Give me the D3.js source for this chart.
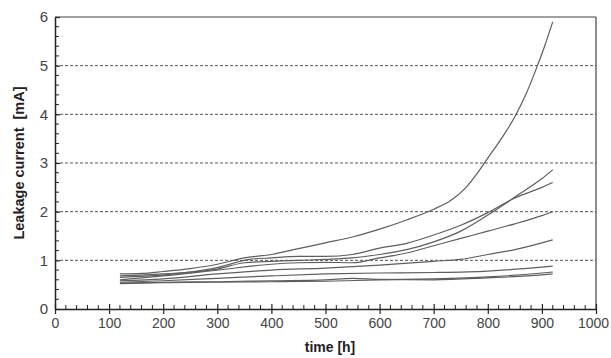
<!DOCTYPE html>
<html><head><meta charset="utf-8">
<script src="https://cdn.jsdelivr.net/npm/d3@7"></script>
<style>body{margin:0;background:#fff}svg{display:block}text{white-space:pre}</style>
</head><body><svg id="c" width="611" height="358"></svg>
<script>
const xTicks = [0,100,200,300,400,500,600,700,800,900,1000];
const yTicks = [0,1,2,3,4,5,6];
const gridValues = [1,2,3,4,5];
const xLabel = "time [h]";
const yLabel = "Leakage current  [mA]";

const seriesA = [[120,0.72],[160,0.73],[200,0.77],[250,0.83],[300,0.92],[350,1.05],[400,1.12],[450,1.24],[500,1.36],[550,1.48],[600,1.64],[650,1.83],[700,2.05],[730,2.22],[760,2.5],[780,2.78],[800,3.1],[825,3.5],[850,3.95],[870,4.4],[890,4.95],[905,5.4],[920,5.9]];
const seriesB = [[120,0.68],[200,0.72],[300,0.82],[350,0.95],[400,0.98],[450,1.0],[500,1.02],[550,1.05],[600,1.12],[650,1.22],[700,1.38],[750,1.6],[800,1.93],[850,2.3],[900,2.68],[920,2.86]];
const seriesC = [[120,0.65],[200,0.7],[300,0.85],[360,1.02],[400,1.05],[450,1.08],[500,1.08],[550,1.12],[600,1.25],[650,1.35],[700,1.52],[750,1.72],[800,1.98],[850,2.28],[900,2.5],[920,2.6]];
const seriesD = [[120,0.6],[200,0.68],[300,0.8],[400,0.92],[450,0.95],[500,0.96],[550,0.95],[600,1.05],[650,1.15],[700,1.3],[750,1.45],[800,1.6],[850,1.75],[900,1.92],[920,2.0]];
const seriesE = [[120,0.58],[200,0.62],[300,0.72],[400,0.8],[500,0.84],[600,0.9],[700,0.98],[750,1.02],[800,1.12],[850,1.22],[900,1.36],[920,1.42]];
const seriesF = [[120,0.55],[200,0.58],[300,0.63],[400,0.68],[500,0.72],[600,0.74],[700,0.75],[800,0.78],[900,0.86],[920,0.88]];
const seriesG = [[120,0.52],[200,0.54],[300,0.55],[400,0.56],[500,0.57],[600,0.6],[700,0.62],[800,0.66],[900,0.74],[920,0.76]];
const seriesH = [[120,0.53],[200,0.55],[300,0.56],[400,0.58],[500,0.6],[550,0.63],[600,0.61],[700,0.6],[800,0.64],[900,0.7],[920,0.72]];
const allSeries = [seriesA,seriesB,seriesC,seriesD,seriesE,seriesF,seriesG,seriesH];

const W=611,H=358,m={l:55,r:15,t:17,b:49};
const svg=d3.select("#c");
const x=d3.scaleLinear().domain([0,1000]).range([m.l,W-m.r]);
const y=d3.scaleLinear().domain([0,6]).range([H-m.b,m.t]);
const font="Liberation Sans, Arial, sans-serif";

svg.append("g").selectAll("line").data(gridValues).join("line")
  .attr("x1",x(0)).attr("x2",x(1000)).attr("y1",d=>y(d)).attr("y2",d=>y(d))
  .attr("stroke","#555").attr("stroke-width",1).attr("stroke-dasharray","3,2");

svg.append("line").attr("x1",x(0)).attr("x2",x(1000)).attr("y1",y(6)).attr("y2",y(6)).attr("stroke","#444").attr("stroke-width",1.2);
svg.append("line").attr("x1",x(1000)).attr("x2",x(1000)).attr("y1",y(6)).attr("y2",y(0)).attr("stroke","#444").attr("stroke-width",1.2);

const line=d3.line().x(d=>x(d[0])).y(d=>y(d[1])).curve(d3.curveMonotoneX);
svg.append("g").selectAll("path").data(allSeries).join("path")
  .attr("d",line).attr("fill","none").attr("stroke","#5e5e5e").attr("stroke-width",1.2);

const xMinor=d3.range(0,1001,20).filter(v=>v%100!==0);
svg.append("g").selectAll("line").data(xMinor).join("line")
  .attr("x1",d=>x(d)).attr("x2",d=>x(d)).attr("y1",y(0)).attr("y2",y(0)-4)
  .attr("stroke","#222").attr("stroke-width",1);
const yMinor=d3.range(0,6.001,0.2).filter(v=>Math.abs(v-Math.round(v))>0.01);
svg.append("g").selectAll("line").data(yMinor).join("line")
  .attr("x1",x(0)).attr("x2",x(0)+4).attr("y1",d=>y(d)).attr("y2",d=>y(d))
  .attr("stroke","#222").attr("stroke-width",1);

const fmt=d3.format("d");
const gx=svg.append("g").attr("transform",`translate(0,${y(0)})`)
  .call(d3.axisBottom(x).tickValues(xTicks).tickFormat(fmt).tickSize(5).tickSizeOuter(0).tickPadding(4));
const gy=svg.append("g").attr("transform",`translate(${x(0)},0)`)
  .call(d3.axisLeft(y).tickValues(yTicks).tickFormat(fmt).tickSize(4).tickSizeOuter(0).tickPadding(3));
[gx,gy].forEach(g=>{
  g.select(".domain").attr("stroke","#222").attr("stroke-width",1.5);
  g.selectAll(".tick line").attr("stroke","#222").attr("stroke-width",1.2);
  g.selectAll("text").attr("font-family",font).attr("font-size",15).attr("fill","#444");
});
gx.selectAll("text").attr("font-size",14).attr("dx",d=>d===1000?-3:0);
gx.selectAll(".tick line").attr("y1",-5);
gy.selectAll(".tick line").attr("x2",5);

svg.append("text").attr("x",330).attr("y",352)
  .attr("text-anchor","middle").attr("font-family",font).attr("font-weight","bold")
  .attr("font-size",14).attr("fill","#222").text(xLabel);
svg.append("text").attr("transform",`translate(24,${(y(0)+y(6))/2}) rotate(-90)`)
  .attr("text-anchor","middle").attr("font-family",font).attr("font-weight","bold")
  .attr("font-size",14.5).attr("fill","#222").text(yLabel);
</script></body></html>
